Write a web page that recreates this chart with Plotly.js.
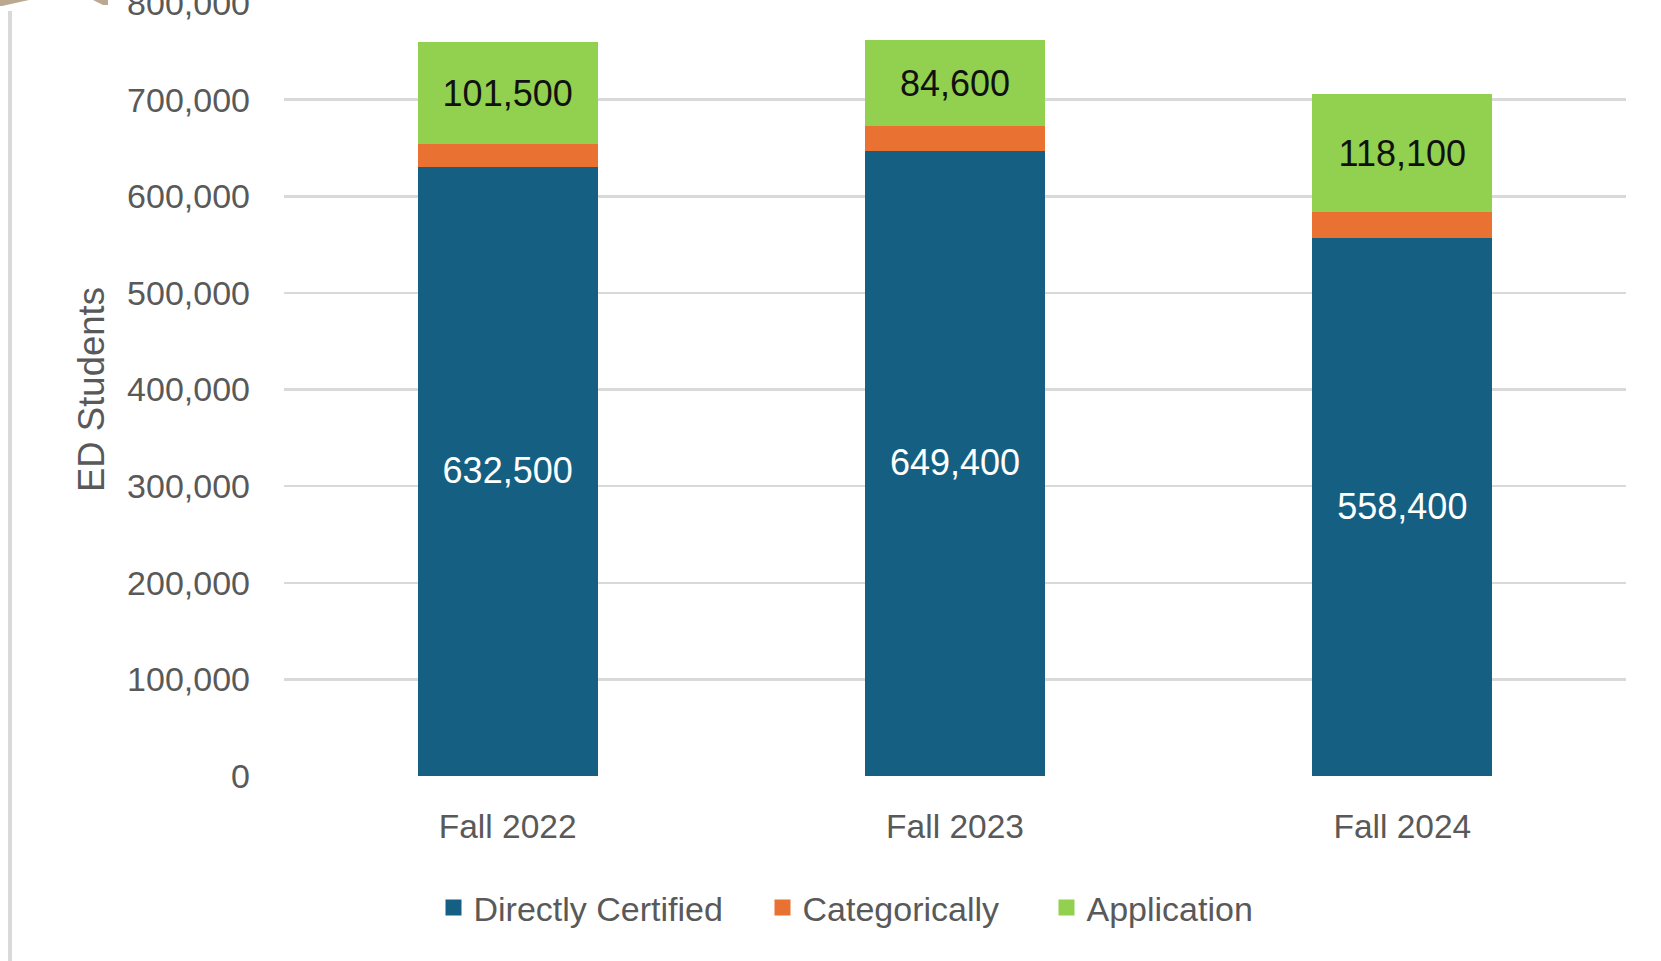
<!DOCTYPE html>
<html>
<head>
<meta charset="utf-8">
<script src="https://cdn.plot.ly/plotly-3.0.1.min.js"></script>
<style>
  html, body { margin: 0; padding: 0; background: #ffffff; }
  #chart { width: 1661px; height: 961px; }
</style>
</head>
<body>
<div id="chart"></div>
<script>
// ---- data ----
const categories = ["Fall 2022", "Fall 2023", "Fall 2024"];
const directlyCertified = [632500, 649400, 558400];
const categorically = [23500, 25500, 27000];
const application = [101500, 84600, 118100];
const seriesNames = ["Directly Certified", "Categorically", "Application"];

// ---- styling ----
const FONT = "Liberation Sans, Arial, sans-serif";
const GRAY = "#595959";
const colors = ["#156082", "#E97132", "#92D050"];

// plot-area geometry (px) used only to place decorations
const W = 1661, H = 961;
const M = { l: 284, r: 35, t: 3, b: 185 };
const PW = W - M.l - M.r, PH = H - M.t - M.b;
const px = x => (x - M.l) / PW;
const py = y => (H - M.b - y) / PH;

function poly(pts) {
  return "M" + pts.map(p => px(p[0]).toFixed(5) + "," + py(p[1]).toFixed(5)).join(" L") + " Z";
}

const lineW = 4;
const common = {
  type: "bar",
  x: categories,
  hoverinfo: "skip",
  constraintext: "none",
  cliponaxis: false
};

const traces = [
  Object.assign({}, common, {
    name: seriesNames[0],
    y: directlyCertified,
    marker: { color: colors[0], line: { color: colors[0], width: lineW } },
    texttemplate: "%{y:,}",
    textposition: "inside",
    insidetextanchor: "middle",
    insidetextfont: { family: FONT, size: 36, color: "#ffffff" },
    legend: "legend"
  }),
  Object.assign({}, common, {
    name: seriesNames[1],
    y: categorically,
    marker: { color: colors[1], line: { color: colors[1], width: lineW } },
    textposition: "none",
    legend: "legend2"
  }),
  Object.assign({}, common, {
    name: seriesNames[2],
    y: application,
    marker: { color: colors[2], line: { color: colors[2], width: lineW } },
    texttemplate: "%{y:,}",
    textposition: "inside",
    insidetextanchor: "middle",
    insidetextfont: { family: FONT, size: 36, color: "#111111" },
    legend: "legend3"
  })
];

const legendBase = {
  orientation: "h",
  yanchor: "middle",
  xanchor: "left",
  y: py(908),
  bgcolor: "rgba(0,0,0,0)",
  borderwidth: 0,
  font: { family: FONT, size: 34, color: GRAY }
};

const layout = {
  width: W,
  height: H,
  margin: M,
  paper_bgcolor: "#ffffff",
  plot_bgcolor: "#ffffff",
  barmode: "stack",
  bargap: 0.6065,
  font: { family: FONT, color: GRAY },
  showlegend: true,
  legend: Object.assign({}, legendBase, { x: px(433.5) }),
  legend2: Object.assign({}, legendBase, { x: px(762.5) }),
  legend3: Object.assign({}, legendBase, { x: px(1046.5) }),
  xaxis: {
    type: "category",
    automargin: false,
    showgrid: false,
    showline: false,
    zeroline: false,
    ticks: "",
    tickfont: { family: FONT, size: 33.5, color: GRAY },
    ticklabelstandoff: 27,
    fixedrange: true
  },
  yaxis: {
    range: [0, 800000],
    dtick: 100000,
    tick0: 0,
    tickformat: ",d",
    automargin: false,
    showline: false,
    zeroline: false,
    showgrid: true,
    gridcolor: "#d9d9d9",
    gridwidth: 2.5,
    ticks: "",
    tickfont: { family: FONT, size: 34, color: GRAY },
    ticklabelstandoff: 33,
    ticklabeloverflow: "allow",
    title: { text: "ED Students", font: { family: FONT, size: 36.5, color: GRAY }, standoff: 11 },
    fixedrange: true
  },
  shapes: [
    // left frame line
    { type: "line", xref: "paper", yref: "paper",
      x0: px(10), x1: px(10), y0: py(11), y1: py(970),
      line: { color: "#d9d9d9", width: 4 }, layer: "above" },
    // beige corner decoration
    { type: "path", xref: "paper", yref: "paper",
      path: poly([[0, -2], [38, -2], [20, 2], [2, 6], [0, 6]]),
      fillcolor: "#baa98f", line: { width: 0 }, layer: "above" },
    { type: "path", xref: "paper", yref: "paper",
      path: poly([[89, -2], [108, -2], [108, 5], [103, 5]]),
      fillcolor: "#baa98f", line: { width: 0 }, layer: "above" }
  ]
};

Plotly.newPlot("chart", traces, layout, { displayModeBar: false, staticPlot: true });
</script>
</body>
</html>
